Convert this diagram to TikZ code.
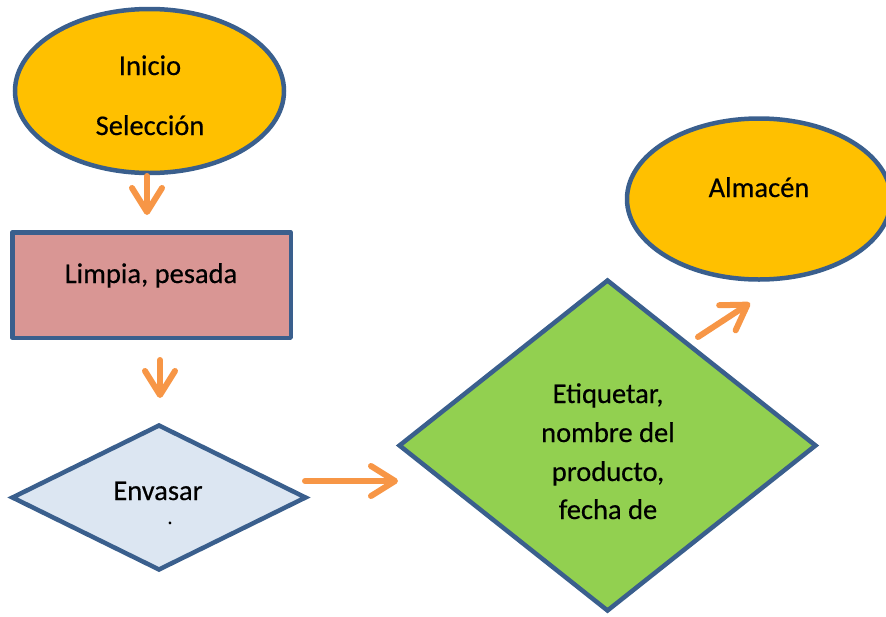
\documentclass[tikz,border=0pt]{standalone}
\usepackage{fontspec}
\setmainfont{Carlito}[FakeBold=0.4]
\usetikzlibrary{shapes.geometric,arrows.meta}
\definecolor{edgec}{HTML}{3A5F8D}
\definecolor{orangefill}{HTML}{FFC000}
\definecolor{pinkfill}{HTML}{D99694}
\definecolor{bluefill}{HTML}{DCE6F2}
\definecolor{greenfill}{HTML}{92D050}
\definecolor{arrowc}{HTML}{F79646}
\tikzset{
  shapebase/.style={draw=edgec, line width=4.5pt, inner sep=0pt, outer sep=0pt},
  ovalnode/.style={shapebase, ellipse, fill=orangefill},
  boxnode/.style={shapebase, rectangle, fill=pinkfill, line join=round},
  dianode/.style={shapebase, diamond, line join=miter},
  txt/.style={font=\fontsize{28.5pt}{34pt}\selectfont, anchor=base, inner sep=0pt},
  flowarrow/.style={draw=arrowc, line width=6pt, line cap=round,
    -{Straight Barb[length=24pt, width=30pt, round]}}
}
\begin{document}
\begin{tikzpicture}[x=1pt, y=-1pt]
\useasboundingbox (0,0) rectangle (886,616);
\clip (0,0) rectangle (886,616);
% shapes
\node[ovalnode, minimum width=269pt, minimum height=164pt] (inicio) at (149.5,91) {};
\node[boxnode, minimum width=278.5pt, minimum height=105.5pt] (limpia) at (151.5,285) {};
\node[dianode, fill=bluefill, minimum width=293pt, minimum height=144pt] (envasar) at (159,497.5) {};
\node[dianode, fill=greenfill, minimum width=416pt, minimum height=330pt] (etiquetar) at (607.5,445.5) {};
\node[ovalnode, minimum width=264pt, minimum height=161pt] (almacen) at (759,199) {};
% texts
\node[txt] (t1) at (150,75) {Inicio};
\node[txt] (t2) at (150,135) {Selección};
\node[txt] (t3) at (151,283) {Limpia, pesada};
\node[txt] (t4) at (158,500) {Envasar};
\node[txt, font=\fontsize{20pt}{24pt}\selectfont] (t5) at (170,524) {.};
\node[txt] (t6) at (608,403) {Etiquetar,};
\node[txt] (t7) at (608,442) {nombre del};
\node[txt] (t8) at (608,481) {producto,};
\node[txt] (t9) at (608,519) {fecha de};
\node[txt] (t10) at (759,197) {Almacén};
% connectors
\coordinate (a1s) at (147,176);
\coordinate (a1e) at (147,215);
\coordinate (a2s) at (160,360);
\coordinate (a2e) at (160,398);
\coordinate (a3s) at (305,481);
\coordinate (a3e) at (398,481);
\coordinate (a4s) at (698,337);
\coordinate (a4e) at (750,303);
\draw[flowarrow] (a1s) -- (a1e);
\draw[flowarrow] (a2s) -- (a2e);
\draw[flowarrow] (a3s) -- (a3e);
\draw[flowarrow] (a4s) -- (a4e);
\end{tikzpicture}
\end{document}
